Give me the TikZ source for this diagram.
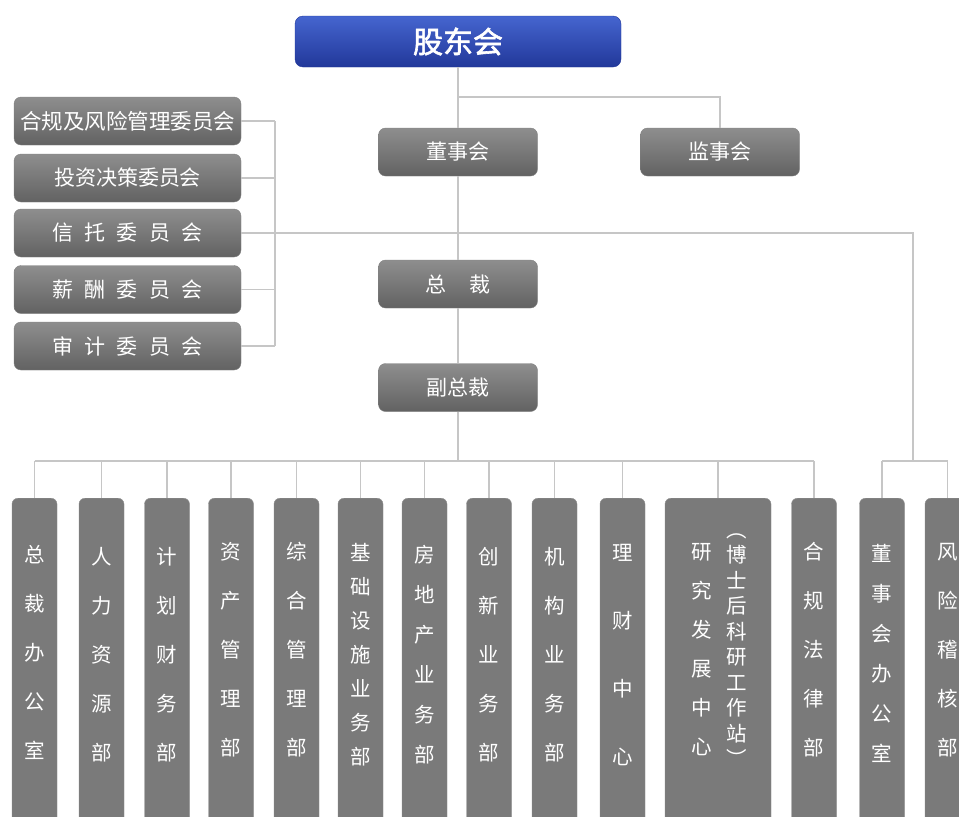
\documentclass[tikz,border=0pt]{standalone}
\usepackage{fontspec}
\setmainfont{Noto Sans CJK SC}
\newfontfamily\cjkbold{Noto Sans CJK SC}[FakeBold=2]
\usetikzlibrary{calc}
\definecolor{linegray}{HTML}{C6C6C6}
\definecolor{gtop}{HTML}{8E8E8E}
\definecolor{gbot}{HTML}{626262}
\definecolor{btop}{HTML}{4565CF}
\definecolor{bbot}{HTML}{22389A}
\definecolor{colfill}{HTML}{7A7A7A}
\tikzset{
  conn/.style={draw=linegray, line width=1.3pt},
  topbox/.style={rectangle, rounded corners=7pt, minimum width=159pt, minimum height=48pt,
    top color=gtop, bottom color=gbot, draw=gbot!80, text=white, inner sep=0pt,
    font=\fontsize{21}{21}\selectfont},
  combox/.style={topbox, minimum width=227pt},
  colbox/.style={rectangle, rounded corners=6pt, minimum width=45pt, minimum height=340pt,
    fill=colfill, draw=colfill!85!white, anchor=north, inner sep=0pt},
  coltext/.style={text=white, align=center, inner sep=0pt},
}
\newcommand{\vfont}[1]{\fontsize{20.5}{#1}\selectfont}
\begin{document}
\begin{tikzpicture}[x=1pt,y=-1pt]
\clip (0,0) rectangle (959,817);
\fill[white] (0,0) rectangle (959,817);
% top level
\node[rectangle, rounded corners=8pt, minimum width=326pt, minimum height=51pt,
  top color=btop, bottom color=bbot, draw=bbot, text=white, inner sep=0pt,
  font=\fontsize{30}{30}\cjkbold] (gd) at (458,41.5) {股东会};
\node[topbox] (dsh) at (458,152) {董事会};
\node[topbox] (jsh) at (720,152) {监事会};
\node[topbox] (zc) at (458,284) {总\hspace{24pt}裁};
\node[topbox] (fzc) at (458,387.5) {副总裁};
% committees
\node[combox, font=\fontsize{21.5}{21.5}\selectfont] (c1) at (127.5,121) {合规及风险管理委员会};
\node[combox, font=\fontsize{21}{21}\selectfont] (c2) at (127.5,178) {投资决策委员会};
\node[combox, font=\fontsize{21}{21}\selectfont] (c3) at (127.5,233) {信\hspace{11.5pt}托\hspace{11.5pt}委\hspace{11.5pt}员\hspace{11.5pt}会};
\node[combox, font=\fontsize{21}{21}\selectfont] (c4) at (127.5,289.5) {薪\hspace{11.5pt}酬\hspace{11.5pt}委\hspace{11.5pt}员\hspace{11.5pt}会};
\node[combox, font=\fontsize{21}{21}\selectfont] (c5) at (127.5,346) {审\hspace{11.5pt}计\hspace{11.5pt}委\hspace{11.5pt}员\hspace{11.5pt}会};
% junction coordinates
\coordinate (j1) at (458,97);
\coordinate (cb) at (275,233);
\coordinate (rt) at (913,233);
\coordinate (rb) at (913,461);
\coordinate (bus) at (458,461);
% bottom columns
\node[colbox] (b1) at (34.5,498) {};
\node[colbox] (b2) at (101.5,498) {};
\node[colbox] (b3) at (167,498) {};
\node[colbox] (b4) at (231,498) {};
\node[colbox] (b5) at (296.5,498) {};
\node[colbox] (b6) at (360.5,498) {};
\node[colbox] (b7) at (424.5,498) {};
\node[colbox] (b8) at (489,498) {};
\node[colbox] (b9) at (554.5,498) {};
\node[colbox] (b10) at (622.5,498) {};
\node[colbox, minimum width=106pt] (b11) at (718,498) {};
\node[colbox] (b12) at (814,498) {};
\node[colbox] (b13) at (882,498) {};
\node[colbox] (b14) at (947.5,498) {};
% column texts
\node[coltext, font=\vfont{49}] (t1) at ([yshift=-154pt]b1.north) {总\\裁\\办\\公\\室};
\node[coltext, font=\vfont{49}] (t2) at ([yshift=-157pt]b2.north) {人\\力\\资\\源\\部};
\node[coltext, font=\vfont{49}] (t3) at ([yshift=-157pt]b3.north) {计\\划\\财\\务\\部};
\node[coltext, font=\vfont{49}] (t4) at ([yshift=-152pt]b4.north) {资\\产\\管\\理\\部};
\node[coltext, font=\vfont{49}] (t5) at ([yshift=-152pt]b5.north) {综\\合\\管\\理\\部};
\node[coltext, font=\vfont{34}] (t6) at ([yshift=-157pt]b6.north) {基\\础\\设\\施\\业\\务\\部};
\node[coltext, font=\vfont{40}] (t7) at ([yshift=-157pt]b7.north) {房\\地\\产\\业\\务\\部};
\node[coltext, font=\vfont{49}] (t8) at ([yshift=-157pt]b8.north) {创\\新\\业\\务\\部};
\node[coltext, font=\vfont{49}] (t9) at ([yshift=-157pt]b9.north) {机\\构\\业\\务\\部};
\node[coltext, font=\vfont{68}] (t10) at ([yshift=-157pt]b10.north) {理\\财\\中\\心};
\node[coltext, font=\vfont{39}] (t11a) at ([xshift=-16pt,yshift=-152pt]b11.north) {研\\究\\发\\展\\中\\心};
\node[coltext, font=\vfont{25.5}] (t11b) at ([xshift=19pt,yshift=-152pt]b11.north) {︵\\博\\士\\后\\科\\研\\工\\作\\站\\︶};
\node[coltext, font=\vfont{49}] (t12) at ([yshift=-152pt]b12.north) {合\\规\\法\\律\\部};
\node[coltext, font=\vfont{40}] (t13) at ([yshift=-155pt]b13.north) {董\\事\\会\\办\\公\\室};
\node[coltext, font=\vfont{49}] (t14) at ([yshift=-152pt]b14.north) {风\\险\\稽\\核\\部};
% connectors
\draw[conn] (gd.south) -- (dsh.north);
\draw[conn] (j1) -| (jsh.north);
\draw[conn] (dsh.south) -- (zc.north);
\draw[conn] (zc.south) -- (fzc.north);
\draw[conn] (fzc.south) -- (bus);
\draw[conn] (b1.north |- bus) -- (b12.north |- bus);
\foreach \b in {b1,b2,b3,b4,b5,b6,b7,b8,b9,b10,b11,b12}{
  \draw[conn] (\b.north |- bus) -- (\b.north);
}
\foreach \c in {c1,c2,c3,c4,c5}{
  \draw[conn] (\c.east) -- (\c.east -| cb);
}
\draw[conn] (c1.east -| cb) -- (c5.east -| cb);
\draw[conn] (c3.east) -- (rt) -- (rb);
\draw[conn] (b13.north |- rb) -- (b14.north |- rb);
\draw[conn] (b13.north |- rb) -- (b13.north);
\draw[conn] (b14.north |- rb) -- (b14.north);
\end{tikzpicture}
\end{document}
